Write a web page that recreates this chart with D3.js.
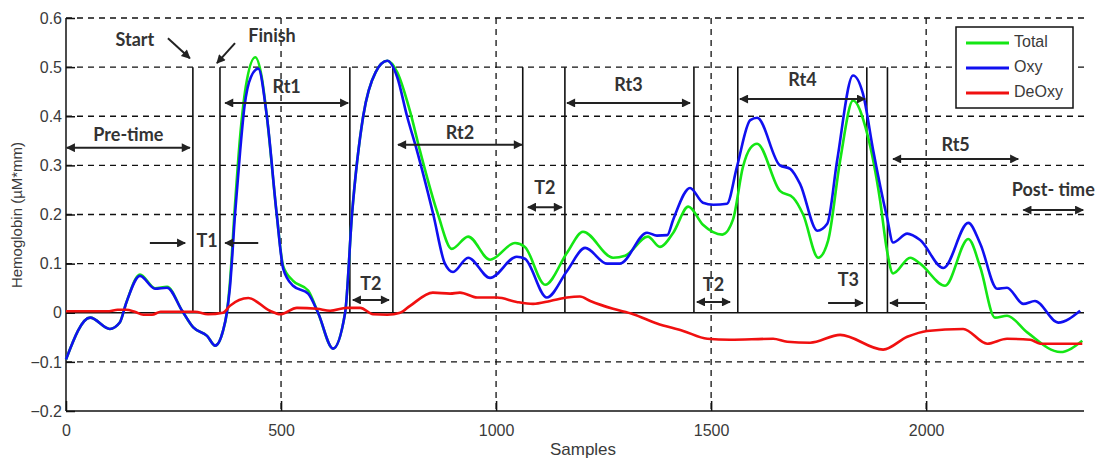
<!DOCTYPE html>
<html>
<head>
<meta charset="utf-8">
<script src="https://cdn.jsdelivr.net/npm/d3@7"></script>
<style>
  body { margin: 0; background: #fff; }
  svg { display: block; }
  .tick-lbl { font-family: "Liberation Sans", Arial, sans-serif; font-size: 16px; fill: #3a3a3a; }
  .note { font-family: Lato, "Open Sans", sans-serif; font-weight: bold; font-size: 18px; fill: #333; }
</style>
</head>
<body>
<script>
// ---- data (sample, value) ----
var totalData = [[0,-0.095],[56,-0.01],[102,-0.033],[125,-0.02],[140,0.02],[172,0.078],[207,0.05],[235,0.053],[270,0.004],[296,-0.03],[328,-0.047],[347,-0.067],[365,-0.037],[374,0],[381,0.06],[393,0.22],[405,0.36],[418,0.46],[440,0.52],[455,0.48],[467,0.4],[490,0.2],[505,0.095],[528,0.065],[563,0.045],[586,0],[621,-0.073],[649,0],[665,0.2],[691,0.4],[720,0.49],[747,0.513],[770,0.49],[800,0.41],[823,0.33],[865,0.2],[897,0.13],[935,0.155],[986,0.108],[1044,0.142],[1067,0.134],[1114,0.057],[1165,0.122],[1202,0.165],[1272,0.112],[1300,0.116],[1353,0.155],[1381,0.134],[1412,0.163],[1447,0.216],[1481,0.179],[1526,0.159],[1551,0.19],[1574,0.297],[1591,0.335],[1607,0.344],[1660,0.248],[1691,0.234],[1714,0.2],[1749,0.112],[1772,0.147],[1800,0.31],[1830,0.432],[1863,0.364],[1893,0.228],[1909,0.126],[1923,0.08],[1963,0.112],[1986,0.1],[2044,0.055],[2098,0.15],[2126,0.092],[2160,-0.01],[2188,-0.006],[2235,-0.04],[2312,-0.08],[2363,-0.057]];

var oxyData = [[0,-0.095],[56,-0.01],[102,-0.033],[125,-0.02],[140,0.02],[172,0.075],[207,0.049],[235,0.051],[270,0.004],[296,-0.03],[328,-0.047],[347,-0.067],[365,-0.037],[374,0],[381,0.05],[393,0.2],[405,0.33],[415,0.42],[430,0.48],[447,0.497],[467,0.4],[490,0.2],[505,0.09],[528,0.055],[563,0.039],[586,0],[621,-0.073],[649,0],[665,0.2],[691,0.4],[720,0.49],[747,0.513],[770,0.48],[793,0.4],[816,0.33],[854,0.2],[881,0.1],[900,0.083],[935,0.112],[986,0.071],[1048,0.114],[1067,0.11],[1118,0.031],[1165,0.085],[1207,0.132],[1258,0.1],[1288,0.1],[1351,0.163],[1374,0.157],[1398,0.158],[1412,0.19],[1451,0.254],[1481,0.224],[1505,0.22],[1537,0.222],[1560,0.297],[1591,0.392],[1607,0.397],[1660,0.3],[1684,0.293],[1707,0.262],[1747,0.167],[1770,0.181],[1793,0.31],[1830,0.483],[1853,0.446],[1877,0.33],[1909,0.194],[1923,0.143],[1956,0.161],[1986,0.148],[2040,0.091],[2098,0.183],[2126,0.14],[2165,0.049],[2188,0.051],[2226,0.018],[2253,0.024],[2307,-0.02],[2358,0.004]];

var deoxyData = [[0,0.003],[100,0.003],[120,0.006],[140,0.006],[160,0.002],[180,-0.004],[200,-0.004],[220,0.002],[300,0.002],[330,-0.003],[365,0],[381,0.014],[424,0.03],[474,0.004],[498,-0.003],[537,0.01],[584,0.008],[614,0.004],[653,0.01],[684,0.01],[714,-0.003],[747,-0.004],[777,0],[800,0.014],[853,0.041],[893,0.039],[916,0.041],[956,0.031],[1002,0.031],[1048,0.022],[1086,0.018],[1126,0.024],[1165,0.031],[1195,0.033],[1219,0.024],[1272,0.008],[1319,-0.003],[1374,-0.022],[1435,-0.037],[1491,-0.053],[1544,-0.055],[1644,-0.053],[1677,-0.059],[1730,-0.061],[1800,-0.045],[1900,-0.075],[1956,-0.049],[2002,-0.037],[2086,-0.033],[2142,-0.063],[2188,-0.053],[2242,-0.055],[2265,-0.063],[2363,-0.063]];

var xTicks = [0, 500, 1000, 1500, 2000];
var yTicks = [-0.2, -0.1, 0, 0.1, 0.2, 0.3, 0.4, 0.5, 0.6];

// event marker lines (samples), drawn from 0 to 0.5
var eventLines = [295, 358, 660, 760, 1062, 1160, 1460, 1562, 1862, 1910];

// double-headed spans: [from, to, value, label, labelValue]
var spans = [
  [2, 288, 0.336, "Pre-time", 0.36],
  [370, 656, 0.427, "Rt1", 0.457],
  [772, 1060, 0.342, "Rt2", 0.364],
  [667, 751, 0.026, "T2", 0.055],
  [1074, 1153, 0.215, "T2", 0.252],
  [1165, 1451, 0.427, "Rt3", 0.461],
  [1467, 1544, 0.022, "T2", 0.053],
  [1567, 1858, 0.435, "Rt4", 0.47],
  [1923, 2214, 0.313, "Rt5", 0.339],
  [2226, 2365, 0.209, "Post- time", 0.248]
];

// single arrows: [x1, v1, x2, v2]
var pointers = [
  [237, 0.559, 288, 0.518],
  [393, 0.549, 351, 0.508],
  [195, 0.142, 277, 0.142],
  [447, 0.142, 370, 0.142],
  [1772, 0.02, 1853, 0.02],
  [1998, 0.02, 1916, 0.02]
];

// free labels: [sample, value, text]
var labels = [
  [160, 0.553, "Start"],
  [479, 0.561, "Finish"],
  [328, 0.144, "T1"],
  [1819, 0.063, "T3"]
];

var seriesNames = ["Total", "Oxy", "DeOxy"];
var seriesColors = ["#14e614", "#1010f0", "#f01010"];

// ---- drawing ----
var W = 1107, H = 463;
var padL = 66, padR = 1084, padT = 18, padB = 411;

var svg = d3.select("body").append("svg").attr("width", W).attr("height", H);

var x = d3.scaleLinear().domain([0, 2367]).range([padL, padR]);
var y = d3.scaleLinear().domain([-0.2, 0.6]).range([padB, padT]);

var defs = svg.append("defs");
defs.append("marker").attr("id", "head")
  .attr("viewBox", "0 0 10 10").attr("refX", 9).attr("refY", 5)
  .attr("markerWidth", 11).attr("markerHeight", 9)
  .attr("markerUnits", "userSpaceOnUse").attr("orient", "auto-start-reverse")
  .append("path").attr("d", "M0,0 L10,5 L0,10 z").attr("fill", "#222");

// grid
svg.append("g").selectAll("line").data(yTicks.filter(function(d) { return d > -0.2 && d !== 0; }))
  .enter().append("line")
  .attr("x1", padL).attr("x2", padR)
  .attr("y1", function(d) { return y(d); }).attr("y2", function(d) { return y(d); })
  .attr("stroke", "#111").attr("stroke-width", 1.3).attr("stroke-dasharray", "6,5");

svg.append("g").selectAll("line").data(xTicks.filter(function(d) { return d > 0; }))
  .enter().append("line")
  .attr("x1", function(d) { return x(d); }).attr("x2", function(d) { return x(d); })
  .attr("y1", padT).attr("y2", padB)
  .attr("stroke", "#111").attr("stroke-width", 1.3).attr("stroke-dasharray", "6,5");

// axes
var xAxis = svg.append("g").attr("transform", "translate(0," + padB + ")")
  .call(d3.axisBottom(x).tickValues(xTicks).tickSize(-10).tickPadding(14).tickFormat(d3.format("d")));
var yAxis = svg.append("g").attr("transform", "translate(" + padL + ",0)")
  .call(d3.axisLeft(y).tickValues(yTicks).tickSize(-9).tickPadding(4)
    .tickFormat(function(d) { return d === 0 ? "0" : d3.format(".1f")(d); }));
[xAxis, yAxis].forEach(function(a) {
  a.select(".domain").attr("stroke", "#111").attr("stroke-width", 1.5);
  a.selectAll(".tick line").attr("stroke", "#111").attr("stroke-width", 1.5);
  a.selectAll(".tick text").attr("class", "tick-lbl").attr("fill", null);
  a.attr("font-size", null).attr("font-family", null);
});
xAxis.select(".domain").attr("d", "M" + padL + ",0H" + padR);
yAxis.select(".domain").attr("d", "M0," + padB + "V" + padT);

// zero line
svg.append("line").attr("x1", padL).attr("x2", padR)
  .attr("y1", y(0)).attr("y2", y(0)).attr("stroke", "#111").attr("stroke-width", 1.6);

// event lines
svg.append("g").selectAll("line").data(eventLines).enter().append("line")
  .attr("x1", function(d) { return x(d); }).attr("x2", function(d) { return x(d); })
  .attr("y1", y(0.5)).attr("y2", y(0))
  .attr("stroke", "#111").attr("stroke-width", 1.6);

// series
var line = d3.line().x(function(d) { return x(d[0]); }).y(function(d) { return y(d[1]); })
  .curve(d3.curveMonotoneX);
[totalData, oxyData, deoxyData].forEach(function(data, i) {
  svg.append("path").datum(data).attr("d", line)
    .attr("fill", "none").attr("stroke", seriesColors[i]).attr("stroke-width", 2.6)
    .attr("stroke-linejoin", "round");
});

// annotations
var ann = svg.append("g");
spans.forEach(function(s) {
  ann.append("line").attr("x1", x(s[0])).attr("x2", x(s[1]))
    .attr("y1", y(s[2])).attr("y2", y(s[2]))
    .attr("stroke", "#222").attr("stroke-width", 2)
    .attr("marker-start", "url(#head)").attr("marker-end", "url(#head)");
  ann.append("text").attr("class", "note").attr("text-anchor", "middle")
    .attr("dominant-baseline", "middle")
    .attr("x", x((s[0] + s[1]) / 2)).attr("y", y(s[4])).text(s[3]);
});
pointers.forEach(function(p) {
  ann.append("line").attr("x1", x(p[0])).attr("y1", y(p[1]))
    .attr("x2", x(p[2])).attr("y2", y(p[3]))
    .attr("stroke", "#222").attr("stroke-width", 2).attr("marker-end", "url(#head)");
});
labels.forEach(function(l) {
  ann.append("text").attr("class", "note").attr("text-anchor", "middle")
    .attr("dominant-baseline", "middle")
    .attr("x", x(l[0])).attr("y", y(l[1])).text(l[2]);
});

// legend
var lg = svg.append("g").attr("transform", "translate(956,27)");
lg.append("rect").attr("width", 117).attr("height", 81)
  .attr("fill", "#fff").attr("stroke", "#111").attr("stroke-width", 1.5);
seriesNames.forEach(function(n, i) {
  var yy = 16 + i * 25;
  lg.append("line").attr("x1", 10).attr("x2", 53).attr("y1", yy).attr("y2", yy)
    .attr("stroke", seriesColors[i]).attr("stroke-width", 3);
  lg.append("text").attr("class", "tick-lbl").attr("x", 58).attr("y", yy)
    .attr("dominant-baseline", "middle").text(n);
});

// axis titles
svg.append("text").attr("class", "tick-lbl").attr("text-anchor", "middle")
  .style("font-size", "17px")
  .attr("x", (padL + padR) / 2 + 8).attr("y", 455).text("Samples");
svg.append("text").attr("class", "tick-lbl").attr("text-anchor", "middle")
  .style("font-size", "15px")
  .attr("transform", "translate(22," + 215 + ") rotate(-90)").text("Hemoglobin (µM*mm)");
</script>
</body>
</html>
